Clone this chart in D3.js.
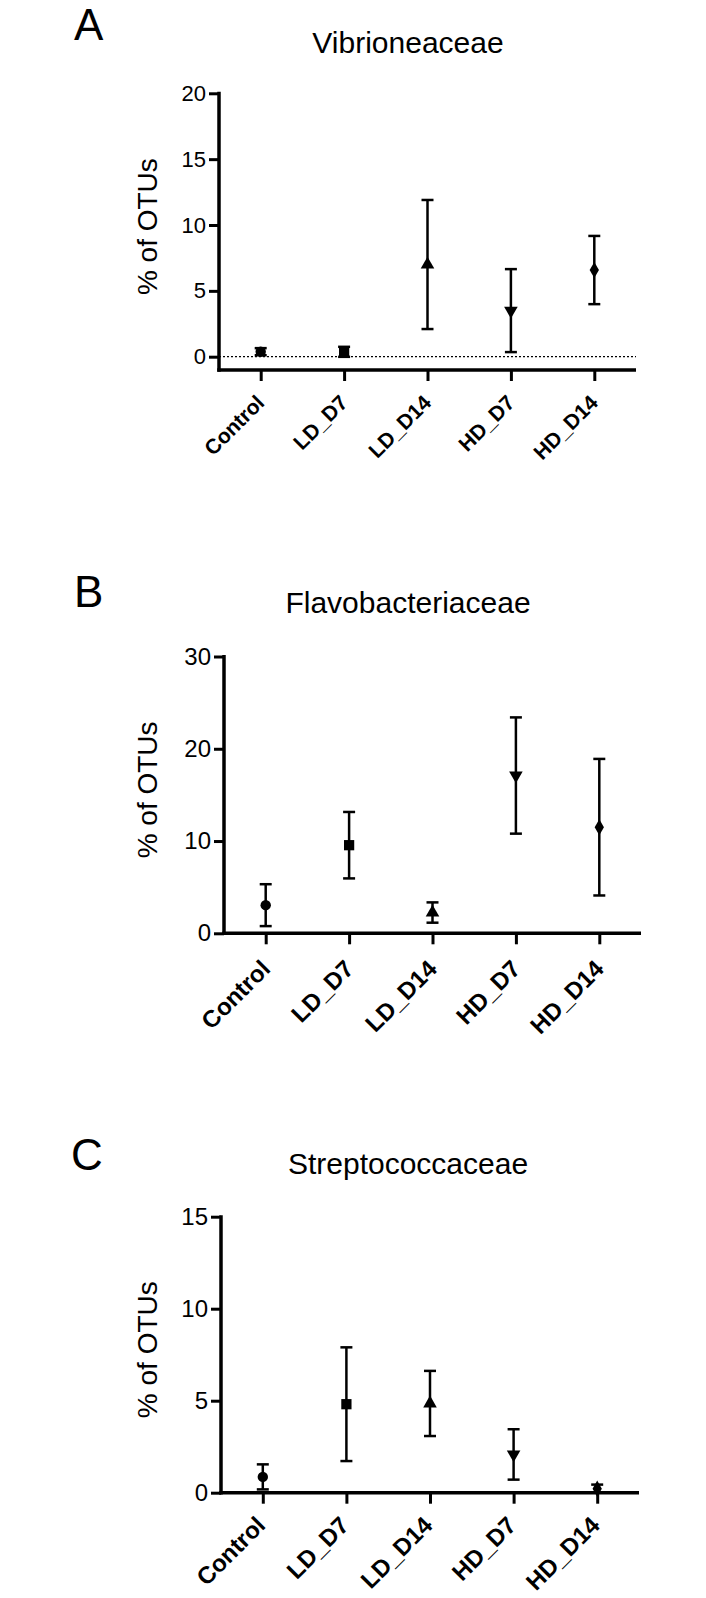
<!DOCTYPE html>
<html>
<head>
<meta charset="utf-8">
<script src="https://cdn.jsdelivr.net/npm/d3@7"></script>
<style>
  body { margin: 0; background: #fff; }
  svg { display: block; }
</style>
</head>
<body>
<svg id="fig" width="706" height="1598"></svg>
<script>
// groups on the x axis (same in every panel)
const groups = ["Control", "LD_D7", "LD_D14", "HD_D7", "HD_D14"];

// Vibrioneaceae, mean and error (% of OTUs)
const vibrioMean = [0.38, 0.37, 7.0, 3.5, 6.58];
const vibrioErr  = [0.27, 0.38, 4.9, 3.15, 2.59];
const vibrioTicks = [0, 5, 10, 15, 20];

// Flavobacteriaceae
const flavoMean = [3.05, 9.55, 2.25, 17.1, 11.5];
const flavoErr  = [2.27, 3.6, 1.1, 6.3, 7.4];
const flavoTicks = [0, 10, 20, 30];

// Streptococcaceae
const streptoMean = [0.86, 4.81, 4.85, 2.08, 0.22];
const streptoErr  = [0.68, 3.09, 1.77, 1.37, 0.22];
const streptoTicks = [0, 5, 10, 15];

const font = "'Liberation Sans', Arial, Helvetica, sans-serif";
const svg = d3.select("#fig");

// marker per group: circle, square, triangle up, triangle down, diamond
const shapes = [
  {type: d3.symbolCircle, size: 85, rot: 0},
  {type: d3.symbolSquare, size: 105, rot: 0},
  {type: d3.symbolTriangle, size: 80, rot: 0},
  {type: d3.symbolTriangle, size: 80, rot: 180},
  {type: d3.symbolDiamond, size: 75, rot: 0}
];

const panels = [
  {letter: "A", title: "Vibrioneaceae", mean: vibrioMean, err: vibrioErr, ticks: vibrioTicks,
   letterX: 74, letterY: 40, titleY: 53, x0: 219, x1: 636, yTop: 93.3, yZero: 356.7, axisY: 370,
   dotted: true, tickFont: 22, labFont: 21, labDx: 5, labDy: 34},
  {letter: "B", title: "Flavobacteriaceae", mean: flavoMean, err: flavoErr, ticks: flavoTicks,
   letterX: 74, letterY: 607, titleY: 613, x0: 224, x1: 641, yTop: 656.5, yZero: 933.3, axisY: 933.3,
   dotted: false, tickFont: 24, labFont: 24, labDx: 6, labDy: 37},
  {letter: "C", title: "Streptococcaceae", mean: streptoMean, err: streptoErr, ticks: streptoTicks,
   letterX: 71, letterY: 1170, titleY: 1174, x0: 221, x1: 639, yTop: 1216.7, yZero: 1492.7, axisY: 1492.7,
   dotted: false, tickFont: 24, labFont: 24, labDx: 4, labDy: 34}
];

panels.forEach(p => drawPanel(svg.append("g"), p));

function drawPanel(g, p) {
  const x = d3.scalePoint().domain(groups).range([p.x0, p.x1]).padding(0.5);
  const y = d3.scaleLinear()
      .domain([d3.min(p.ticks), d3.max(p.ticks)])
      .range([p.yZero, p.yTop]);

  g.append("text")
      .attr("x", p.letterX)
      .attr("y", p.letterY)
      .attr("font-family", font)
      .attr("font-size", 44)
      .text(p.letter);

  g.append("text")
      .attr("x", 408)
      .attr("y", p.titleY)
      .attr("text-anchor", "middle")
      .attr("font-family", font)
      .attr("font-size", 30)
      .text(p.title);

  g.append("text")
      .attr("transform", `translate(157,${(p.yTop + p.axisY) / 2 - 5}) rotate(-90)`)
      .attr("text-anchor", "middle")
      .attr("font-family", font)
      .attr("font-size", 28)
      .text("% of OTUs");

  // y axis
  const yAxis = g.append("g")
      .attr("transform", `translate(${p.x0},0)`)
      .call(d3.axisLeft(y).tickValues(p.ticks).tickSize(10).tickSizeOuter(0).tickPadding(3));
  yAxis.select(".domain").remove();
  yAxis.selectAll(".tick line").attr("stroke", "#000").attr("stroke-width", 3);
  yAxis.selectAll(".tick text")
      .attr("font-family", font)
      .attr("font-size", p.tickFont)
      .attr("fill", "#000");
  g.append("line")
      .attr("x1", p.x0).attr("x2", p.x0)
      .attr("y1", p.yTop - 1.5).attr("y2", p.axisY + 1.75)
      .attr("stroke", "#000").attr("stroke-width", 3.5);

  // x axis
  const xAxis = g.append("g")
      .attr("transform", `translate(0,${p.axisY})`)
      .call(d3.axisBottom(x).tickSize(11).tickSizeOuter(0).tickFormat(""));
  xAxis.select(".domain").remove();
  xAxis.selectAll(".tick line").attr("stroke", "#000").attr("stroke-width", 3);
  g.append("line")
      .attr("x1", p.x0 - 1.75).attr("x2", p.x1)
      .attr("y1", p.axisY).attr("y2", p.axisY)
      .attr("stroke", "#000").attr("stroke-width", 3.5);

  g.selectAll(".xlab")
    .data(groups)
    .join("text")
      .attr("class", "xlab")
      .attr("transform", d => `translate(${x(d) + p.labDx},${p.axisY + p.labDy}) rotate(-45)`)
      .attr("text-anchor", "end")
      .attr("font-family", font)
      .attr("font-weight", "bold")
      .attr("font-size", p.labFont)
      .text(d => d);

  if (p.dotted) {
    g.append("line")
        .attr("x1", p.x0).attr("x2", p.x1)
        .attr("y1", y(0)).attr("y2", y(0))
        .attr("stroke", "#000").attr("stroke-width", 1.3)
        .attr("stroke-dasharray", "2,2");
  }

  // error bars
  const rows = groups.map((k, i) => ({k, m: p.mean[i], e: p.err[i], i}));
  const bars = g.selectAll(".bar").data(rows).join("g").attr("class", "bar");
  bars.append("line")
      .attr("x1", d => x(d.k)).attr("x2", d => x(d.k))
      .attr("y1", d => y(d.m - d.e)).attr("y2", d => y(d.m + d.e))
      .attr("stroke", "#000").attr("stroke-width", 2.5);
  [-1, 1].forEach(s => {
    bars.append("line")
        .attr("x1", d => x(d.k) - 6).attr("x2", d => x(d.k) + 6)
        .attr("y1", d => y(d.m + s * d.e)).attr("y2", d => y(d.m + s * d.e))
        .attr("stroke", "#000").attr("stroke-width", 2.5);
  });
  bars.append("path")
      .attr("transform", d => `translate(${x(d.k)},${y(d.m)}) rotate(${shapes[d.i].rot})`)
      .attr("d", d => d3.symbol().type(shapes[d.i].type).size(shapes[d.i].size)())
      .attr("fill", "#000");
}
</script>
</body>
</html>
